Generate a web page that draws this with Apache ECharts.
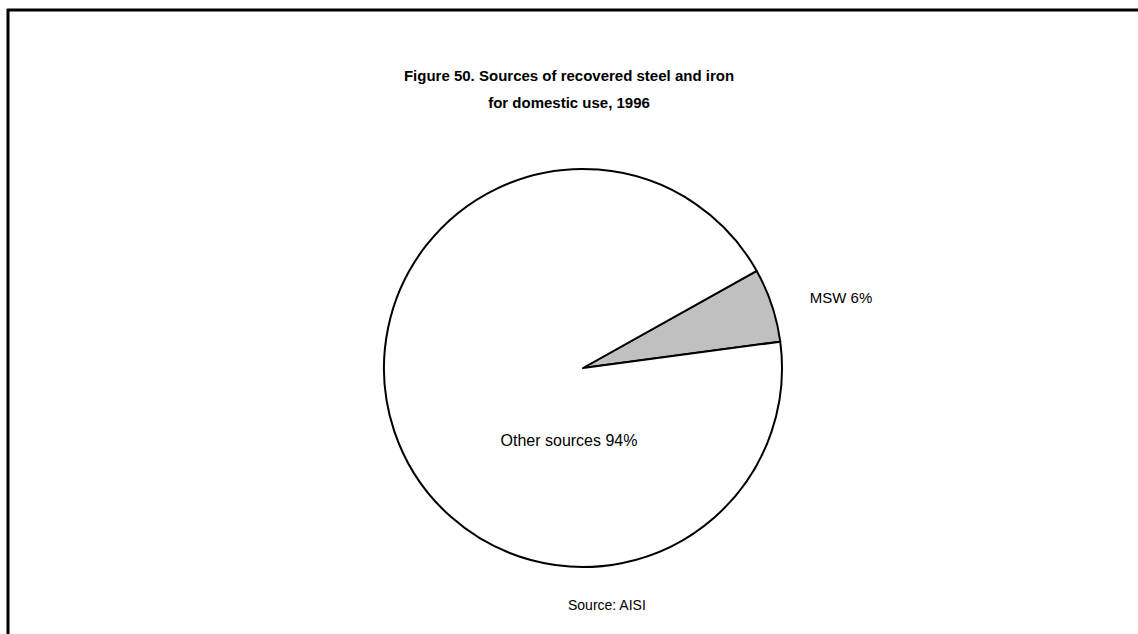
<!DOCTYPE html>
<html>
<head>
<meta charset="utf-8">
<style>
  html, body { margin: 0; padding: 0; background: #fff; }
  #chart { width: 1138px; height: 634px; }
</style>
<script src="https://cdn.jsdelivr.net/npm/echarts@6/dist/echarts.min.js"></script>
</head>
<body>
<div id="chart"></div>
<script>
// Recovered steel and iron for domestic use, 1996 (percent of total)
const categories = ['MSW', 'Other sources'];
const shares = [6, 94];
const sliceColors = ['#c0c0c0', '#ffffff'];
const titleText = 'Figure 50. Sources of recovered steel and iron\nfor domestic use, 1996';
const sourceText = 'Source: AISI';

const FONT = '"Liberation Sans", Arial, Helvetica, sans-serif';

// label placement relative to the pie centre, per slice
const labelOffsets = [[258, -71], [-14, 72]];
const labelSizes = [15, 16];

const chart = echarts.init(document.getElementById('chart'), null, { renderer: 'svg' });

chart.setOption({
  backgroundColor: '#ffffff',
  animation: false,
  title: {
    text: titleText,
    left: 'center',
    top: 57,
    textStyle: {
      fontFamily: FONT,
      fontSize: 15,
      fontWeight: 'bold',
      color: '#000',
      lineHeight: 27
    }
  },
  graphic: [
    { type: 'line', shape: { x1: 7, y1: 10, x2: 1138, y2: 10 }, style: { stroke: '#000', lineWidth: 3 } },
    { type: 'line', shape: { x1: 8, y1: 9, x2: 8, y2: 634 }, style: { stroke: '#000', lineWidth: 3 } },
    {
      type: 'text', left: 568, top: 598,
      style: { text: sourceText, font: '14px ' + FONT, fill: '#000' }
    }
  ],
  series: [{
    type: 'pie',
    center: [583, 368],
    radius: 199,
    startAngle: 29.2,
    clockwise: true,
    silent: true,
    labelLine: { show: false },
    itemStyle: { borderColor: '#000', borderWidth: 2 },
    data: categories.map((name, i) => ({
      name: name,
      value: shares[i],
      itemStyle: { color: sliceColors[i] },
      label: {
        show: true,
        position: 'center',
        offset: labelOffsets[i],
        formatter: '{b} {d}%',
        fontFamily: FONT,
        fontSize: labelSizes[i],
        color: '#000'
      }
    }))
  }]
});
</script>
</body>
</html>
